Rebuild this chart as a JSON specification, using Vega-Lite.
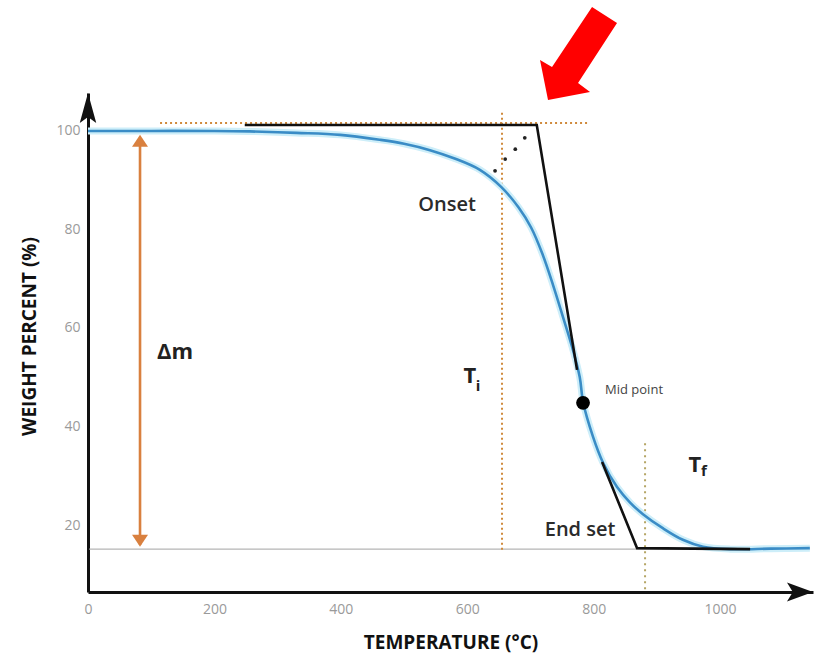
{
  "$schema": "https://vega.github.io/schema/vega-lite/v6.json",
  "width": 725,
  "height": 499,
  "autosize": "none",
  "padding": {"left": 88, "top": 93, "right": 7, "bottom": 68},
  "background": "white",
  "config": {"view": {"stroke": null}, "font": "Open Sans"},
  "datasets": {
    "curve": [
      {"T": 0, "v": 100}, {"T": 100, "v": 100}, {"T": 200, "v": 100}, {"T": 256, "v": 99.9},
      {"T": 330, "v": 99.6}, {"T": 399, "v": 99.2}, {"T": 462, "v": 98.2}, {"T": 500, "v": 97.4},
      {"T": 541, "v": 96.1}, {"T": 580, "v": 94.4}, {"T": 620, "v": 92.1}, {"T": 654, "v": 88.6},
      {"T": 681, "v": 84.5}, {"T": 701, "v": 80.4}, {"T": 719, "v": 75.0}, {"T": 736, "v": 68.6},
      {"T": 751.5, "v": 62.2}, {"T": 766, "v": 56.1}, {"T": 778, "v": 50.0}, {"T": 783.5, "v": 44.8},
      {"T": 799, "v": 37.9}, {"T": 815, "v": 32.6}, {"T": 837, "v": 27.7}, {"T": 858, "v": 24.5},
      {"T": 878, "v": 22.2}, {"T": 910, "v": 19.3}, {"T": 941, "v": 17.0}, {"T": 973, "v": 15.6},
      {"T": 1016, "v": 15.1}, {"T": 1080, "v": 15.2}, {"T": 1142, "v": 15.3}
    ],
    "tangents": [
      {"seg": "a", "T": 248, "v": 101.2}, {"seg": "a", "T": 710, "v": 101.2}, {"seg": "a", "T": 773.7, "v": 51.5},
      {"seg": "b", "T": 813.3, "v": 32.8}, {"seg": "b", "T": 868.7, "v": 15.3}, {"seg": "b", "T": 1047.5, "v": 15.1}
    ],
    "baseline": [{"T": 2, "v": 15.1, "T2": 1142, "v2": 15.1}],
    "dottedOrange": [
      {"T": 114, "v": 101.6, "T2": 794, "v2": 101.6},
      {"T": 655, "v": 103.7, "T2": 655, "v2": 14.9}
    ],
    "dottedOlive": [{"T": 881.3, "v": 36.6, "T2": 881.3, "v2": 6.8}],
    "smallDots": [{"T": 644, "v": 91.9}, {"T": 660, "v": 94.3}, {"T": 676, "v": 96.3}, {"T": 691, "v": 98.6}],
    "midDot": [{"T": 783.2, "v": 44.8}],
    "deltaShaft": [{"T": 82.3, "v": 98.5, "T2": 82.3, "v2": 16}],
    "deltaTop": [{"T": 82.3, "v": 98.0}],
    "deltaBottom": [{"T": 82.3, "v": 16.8}],
    "semiText": [
      {"T": 568, "v": 85.0, "label": "Onset"},
      {"T": 778.5, "v": 19.0, "label": "End set"}
    ],
    "boldText": [
      {"T": 137.7, "v": 55.1, "label": "Δm"},
      {"T": 604, "v": 50.3, "label": "T"},
      {"T": 960, "v": 32.2, "label": "T"}
    ],
    "subText": [
      {"T": 617, "v": 48.3, "label": "i"},
      {"T": 974.5, "v": 30.9, "label": "f"}
    ],
    "smallText": [{"T": 818, "v": 47.4, "label": "Mid point"}],
    "xArrow": [{"T": 1126.4, "v": 6.4}],
    "yArrow": [{"T": 0, "v": 104.65}],
    "redArrow": [{"T": 778.4, "v": 115.8}]
  },
  "encoding": {
    "x": {
      "field": "T", "type": "quantitative",
      "scale": {"domain": [0, 1147], "nice": false, "zero": false},
      "axis": {
        "title": "TEMPERATURE (°C)", "values": [0, 200, 400, 600, 800, 1000], "format": "d",
        "grid": false, "ticks": false, "domainColor": "#111", "domainWidth": 3,
        "labelColor": "#9a9a9a", "labelFontSize": 14, "labelPadding": 10, "labelFlush": false,
        "labelFont": "Open Sans", "titleFont": "Open Sans",
        "titleFontSize": 19, "titleFontWeight": "bold", "titleColor": "#111", "titlePadding": 17
      }
    },
    "y": {
      "field": "v", "type": "quantitative",
      "scale": {"domain": [6.4, 107.7], "nice": false, "zero": false},
      "axis": {
        "title": "WEIGHT PERCENT (%)", "values": [20, 40, 60, 80, 100], "format": "d",
        "grid": false, "ticks": false, "domainColor": "#111", "domainWidth": 3,
        "labelColor": "#9a9a9a", "labelFontSize": 14, "labelPadding": 8, "labelFlush": false,
        "labelFont": "Open Sans", "titleFont": "Open Sans",
        "titleFontSize": 19, "titleFontWeight": "bold", "titleColor": "#111", "titlePadding": 16,
        "titleY": 243
      }
    }
  },
  "layer": [
    {"data": {"name": "baseline"}, "mark": {"type": "rule", "color": "#b5b5b5", "strokeWidth": 1.2},
     "encoding": {"x2": {"field": "T2"}, "y2": {"field": "v2"}}},
    {"data": {"name": "dottedOrange"}, "mark": {"type": "rule", "color": "#d08a3c", "strokeWidth": 2, "strokeDash": [2, 3]},
     "encoding": {"x2": {"field": "T2"}, "y2": {"field": "v2"}}},
    {"data": {"name": "dottedOlive"}, "mark": {"type": "rule", "color": "#b5a565", "strokeWidth": 2, "strokeDash": [2, 4]},
     "encoding": {"x2": {"field": "T2"}, "y2": {"field": "v2"}}},
    {"data": {"name": "curve"}, "mark": {"type": "line", "color": "#cdeef9", "strokeWidth": 7, "interpolate": "catmull-rom"}, "encoding": {}},
    {"data": {"name": "curve"}, "mark": {"type": "line", "color": "#3a8cc6", "strokeWidth": 2.6, "interpolate": "catmull-rom"}, "encoding": {}},
    {"data": {"name": "tangents"}, "mark": {"type": "line", "color": "#111", "strokeWidth": 2.6},
     "encoding": {"detail": {"field": "seg"}}},
    {"data": {"name": "smallDots"}, "mark": {"type": "point", "filled": true, "color": "#222", "size": 14, "opacity": 1}, "encoding": {}},
    {"data": {"name": "midDot"}, "mark": {"type": "point", "filled": true, "color": "#000", "size": 190, "opacity": 1}, "encoding": {}},
    {"data": {"name": "deltaShaft"}, "mark": {"type": "rule", "color": "#d9803f", "strokeWidth": 2.6},
     "encoding": {"x2": {"field": "T2"}, "y2": {"field": "v2"}}},
    {"data": {"name": "deltaTop"}, "mark": {"type": "point", "filled": true, "color": "#d9803f", "opacity": 1, "size": 256, "shape": "M0,-0.75L1,0.75L-1,0.75Z"}, "encoding": {}},
    {"data": {"name": "deltaBottom"}, "mark": {"type": "point", "filled": true, "color": "#d9803f", "opacity": 1, "size": 256, "shape": "M0,0.75L1,-0.75L-1,-0.75Z"}, "encoding": {}},
    {"data": {"name": "semiText"}, "mark": {"type": "text", "fontSize": 20, "fontWeight": 600, "color": "#2b2b2b", "font": "Open Sans", "align": "center", "baseline": "middle"},
     "encoding": {"text": {"field": "label"}}},
    {"data": {"name": "boldText"}, "mark": {"type": "text", "fontSize": 22, "fontWeight": "bold", "color": "#222", "font": "Open Sans", "align": "center", "baseline": "middle"},
     "encoding": {"text": {"field": "label"}}},
    {"data": {"name": "subText"}, "mark": {"type": "text", "fontSize": 15, "fontWeight": "bold", "color": "#222", "font": "Open Sans", "align": "center", "baseline": "middle"},
     "encoding": {"text": {"field": "label"}}},
    {"data": {"name": "smallText"}, "mark": {"type": "text", "fontSize": 13, "color": "#444", "font": "Open Sans", "align": "left", "baseline": "middle"},
     "encoding": {"text": {"field": "label"}}},
    {"data": {"name": "xArrow"}, "mark": {"type": "point", "filled": true, "color": "#111", "opacity": 1, "size": 676, "shape": "M1,0L-1,-0.73L-0.55,0L-1,0.73Z"}, "encoding": {}},
    {"data": {"name": "yArrow"}, "mark": {"type": "point", "filled": true, "color": "#111", "opacity": 1, "size": 900, "shape": "M0,-1L0.55,1L0,0.6L-0.55,1Z"}, "encoding": {}},
    {"data": {"name": "redArrow"}, "mark": {"type": "point", "filled": true, "color": "#ff0000", "opacity": 1, "size": 10000, "shape": "M0.24,-0.92L0.74,-0.6L-0.04,0.6L0.2,0.78L-0.64,0.94L-0.8,0.14L-0.56,0.28Z"}, "encoding": {}}
  ]
}
